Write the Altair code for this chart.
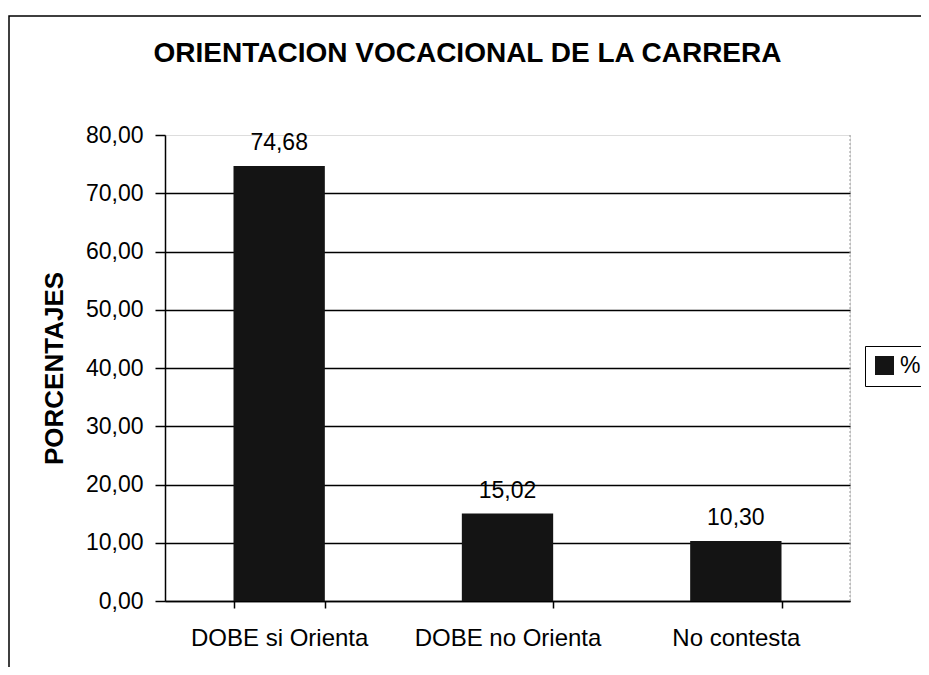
import altair as alt
import pandas as pd

categories = ["DOBE si Orienta", "DOBE no Orienta", "No contesta"]
values = [74.68, 15.02, 10.30]
series = ["%", "%", "%"]
y_ticks = [0, 10, 20, 30, 40, 50, 60, 70, 80]
title_text = "ORIENTACION VOCACIONAL DE LA CARRERA"

df = pd.DataFrame({"cat": categories, "val": values, "serie": series})
frame_df = pd.DataFrame({"k": [0]})
title_df = pd.DataFrame({"t": [title_text]})

FONT = "Liberation Sans, Arial, sans-serif"
W, H = 685, 466

x_enc = alt.X(
    "cat:N",
    sort=categories,
    scale=alt.Scale(paddingInner=0.6, paddingOuter=0.3),
    axis=alt.Axis(
        title=None,
        labelAngle=0,
        labelFontSize=24,
        labelFont=FONT,
        labelColor="black",
        labelPadding=18,
        labelLimit=400,
        tickBand="extent",
        tickSize=7,
        tickColor="black",
        tickWidth=1.5,
        domainColor="black",
        domainWidth=1.5,
        grid=False,
    ),
)
y_enc = alt.Y(
    "val:Q",
    scale=alt.Scale(domain=[0, 80], nice=False),
    axis=alt.Axis(
        title="PORCENTAJES",
        titleFont=FONT,
        titleFontSize=26,
        titleFontWeight="bold",
        titleColor="black",
        titlePadding=18,
        values=y_ticks,
        labelExpr="replace(format(datum.value, '.2f'), '.', ',')",
        labelFont=FONT,
        labelFontSize=23,
        labelColor="black",
        labelPadding=12,
        tickSize=10,
        tickColor="black",
        tickWidth=1.5,
        domainColor="black",
        domainWidth=1.5,
        grid=True,
        gridColor=alt.condition("datum.value == 80", alt.value("transparent"), alt.value("black")),
        gridWidth=1.5,
    ),
)

bars = alt.Chart(df).mark_bar().encode(
    x=x_enc,
    y=y_enc,
    color=alt.Color(
        "serie:N",
        scale=alt.Scale(range=["#141414"]),
        legend=alt.Legend(
            title=None,
            orient="none",
            legendX=700,
            legendY=211,
            symbolType="square",
            symbolSize=361,
            symbolStrokeWidth=0,
            labelFont=FONT,
            labelFontSize=23,
            labelColor="black",
            labelOffset=4,
            strokeColor="black",
            fillColor="white",
            padding=8,
        ),
    ),
)

labels = alt.Chart(df).transform_calculate(
    txt="replace(format(datum.val, '.2f'), '.', ',')"
).mark_text(
    font=FONT, fontSize=23, color="black", baseline="alphabetic", dy=-16
).encode(
    x=alt.X("cat:N", sort=categories),
    y=alt.Y("val:Q"),
    text="txt:N",
)

right_edge = alt.Chart(frame_df).mark_rule(
    color="#999999", strokeDash=[2, 2], strokeWidth=1
).encode(x=alt.value(W), y=alt.value(0), y2=alt.value(H))

border = alt.Chart(frame_df).mark_rect(
    fill=None, stroke="black", strokeWidth=1.5
).encode(
    x=alt.value(-156), x2=alt.value(900), y=alt.value(-119), y2=alt.value(700)
)

title_mark = alt.Chart(title_df).mark_text(
    font=FONT, fontSize=28, fontWeight="bold", color="black",
    align="center", baseline="alphabetic"
).encode(x=alt.value(W / 2 - 40), y=alt.value(-73), text="t:N")

chart = alt.layer(border, title_mark, bars, labels, right_edge).properties(
    width=W,
    height=H,
    autosize=alt.AutoSizeParams(type="none"),
    padding={"left": 157, "top": 127, "right": 71, "bottom": 66},
).configure_view(stroke=None).configure(background="white")

chart.save("out.html", embed_options={"renderer": "svg", "actions": False})
